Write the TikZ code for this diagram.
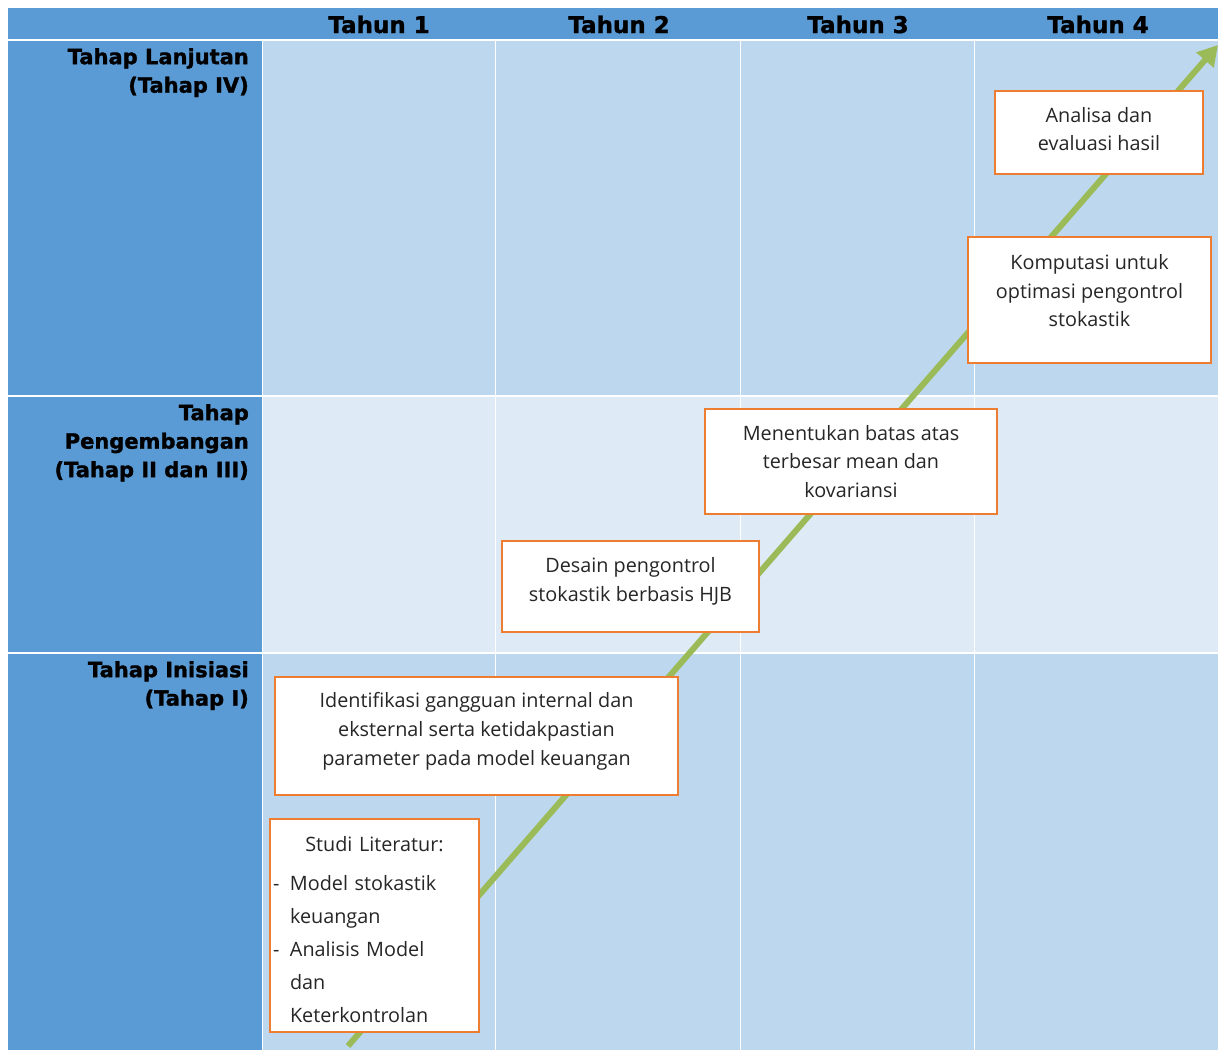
\documentclass[tikz,border=0pt]{standalone}
\usepackage[rgb]{xcolor}
\usepackage{fontspec}
\setmainfont{Open Sans}
\newfontfamily\headfont{DejaVu Sans}[BoldFeatures={FakeBold=1.4}]
\usepackage{tikz}
\usetikzlibrary{arrows.meta}

\definecolor{stageblue}{HTML}{5B9BD5}
\definecolor{celldark}{HTML}{BDD7EE}
\definecolor{celllight}{HTML}{DEEBF7}
\definecolor{arrowgreen}{HTML}{9BBB59}
\definecolor{taskorange}{HTML}{ED7D31}
\definecolor{textgrey}{HTML}{262626}

\tikzset{
  yearhead/.style={anchor=base, inner sep=0pt, font=\headfont\bfseries\fontsize{23}{29}\selectfont},
  stagelabel/.style={anchor=north east, align=right, inner sep=2pt, font=\headfont\bfseries\fontsize{21}{28.5}\selectfont},
  taskbox/.style={draw=taskorange, line width=2pt, fill=white, align=center, text=textgrey, font=\fontsize{19.8}{28.8}\selectfont},
}

\begin{document}
\begin{tikzpicture}[x=1pt,y=-1pt]
\useasboundingbox (0,0) rectangle (1218,1050);

% Draws the header band and the three stage blocks on the left
\fill[stageblue] (8,8) rectangle (1218,39);
\fill[stageblue] (8,41) rectangle (262,395);
\fill[stageblue] (8,397) rectangle (262,652);
\fill[stageblue] (8,654) rectangle (262,1050);

% Draws the rows of the year grid
\fill[celldark] (263,41) rectangle (1218,395);
\fill[celllight] (263,397) rectangle (1218,652);
\fill[celldark] (263,654) rectangle (1218,1050);
\foreach \x in {495.5,740.5,974.5}
  \draw[white, line width=1pt] (\x,41) -- (\x,1050);

% Writes the years on top and the stages on the left
\foreach \n/\x in {1/379,2/619,3/858,4/1098}
  \node[yearhead] (tahun\n) at (\x,33) {Tahun \n};
\node[stagelabel] (lanjutan) at (251,46) {Tahap Lanjutan\\(Tahap IV)};
\node[stagelabel] (pengembangan) at (251,402) {Tahap\\Pengembangan\\(Tahap II dan III)};
\node[stagelabel] (inisiasi) at (251,659) {Tahap Inisiasi\\(Tahap I)};

% Draws the green arrow going up through the years
\coordinate (awal) at (348,1046);
\coordinate (akhir) at (1218,45);
\draw[arrowgreen, line width=6pt, -{Triangle[length=20pt,width=22pt]}] (awal) -- (akhir);

% Draws the task boxes, from the last one down to the first one
\node[taskbox, text depth=7pt, minimum width=208pt, minimum height=83pt] (analisa) at (1099,132.5) {Analisa dan\\evaluasi hasil};
\node[taskbox, text depth=19pt, minimum width=243pt, minimum height=126pt] (komputasi) at (1089.5,300) {Komputasi untuk\\optimasi pengontrol\\stokastik};
\node[taskbox, minimum width=292pt, minimum height=105pt] (batas) at (851,461.5) {Menentukan batas atas\\terbesar mean dan\\kovariansi};
\node[taskbox, text depth=14pt, minimum width=257pt, minimum height=91pt] (desain) at (630.5,586.5) {Desain pengontrol\\stokastik berbasis HJB};
\node[taskbox, text depth=14pt, minimum width=403pt, minimum height=118pt] (identifikasi) at (476.5,736) {Identifikasi gangguan internal dan\\eksternal serta ketidakpastian\\parameter pada model keuangan};
\node[taskbox, align=left, text width=203pt, text height=23pt, inner xsep=3pt, minimum height=213pt, font=\fontsize{19.8}{33}\selectfont] (studi) at (374.5,925.5)
  {\makebox[203pt]{Studi Literatur:}\\[6pt]
   \makebox[17pt][l]{-}Model stokastik\\
   \makebox[17pt]{}keuangan\\
   \makebox[17pt][l]{-}Analisis Model\\
   \makebox[17pt]{}dan\\
   \makebox[17pt]{}Keterkontrolan};

\end{tikzpicture}
\end{document}
